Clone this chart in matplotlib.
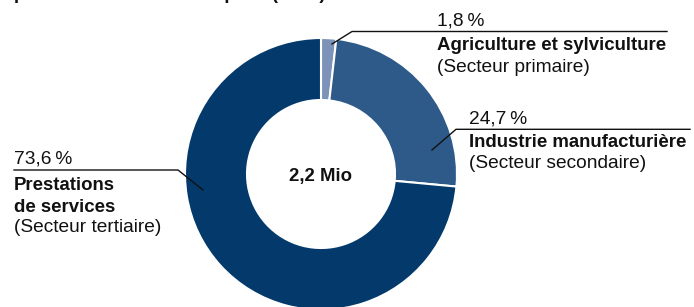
import matplotlib
matplotlib.use("Agg")
import matplotlib.pyplot as plt

# Data
sectors = ["Agriculture et sylviculture", "Industrie manufacturière", "Prestations\nde services"]
subtitles = ["(Secteur primaire)", "(Secteur secondaire)", "(Secteur tertiaire)"]
shares = [1.8, 24.7, 73.6]
colors = ["#7d92b8", "#2e5a8a", "#03396b"]
total_label = "2,2 Mio"
title_fragment = "personnes actives occupées (2019)"

plt.rcParams["font.family"] = ["Liberation Sans", "DejaVu Sans"]

W, H = 694, 307
fig = plt.figure(figsize=(W / 100, H / 100), dpi=100)
ax = fig.add_axes([0, 0, 1, 1])

cx, cy, R, r = 321, 174, 136, 74
ax.pie(shares, colors=colors, startangle=-90, counterclock=True,
       center=(cx, cy), radius=R,
       wedgeprops=dict(width=R - r, edgecolor="white", linewidth=1.5))
ax.set_xlim(0, W)
ax.set_ylim(H, 0)
ax.set_aspect("auto")
ax.axis("off")

fs_r = 13.8
fs_b = 13.4
ax.text(cx, cy + 2, total_label, ha="center", va="center", fontsize=fs_b,
        fontweight="bold", color="#111111")

def pct(v):
    return f"{v:.1f}".replace(".", ",") + "\u2009%"

lc = "#111111"
# Agriculture
ax.plot([332, 352, 667], [44, 31.5, 31.5], color=lc, lw=1.0)
ax.text(437, 25, pct(shares[0]), fontsize=fs_r, va="baseline", color=lc)
ax.text(437, 50, sectors[0], fontsize=fs_b, fontweight="bold", va="baseline", color=lc)
ax.text(437, 72, subtitles[0], fontsize=fs_r, va="baseline", color=lc)

# Industrie
ax.plot([432, 456, 690], [150, 129.3, 129.3], color=lc, lw=1.0)
ax.text(469, 123, pct(shares[1]), fontsize=fs_r, va="baseline", color=lc)
ax.text(469, 147, sectors[1], fontsize=fs_b, fontweight="bold", va="baseline", color=lc)
ax.text(469, 168, subtitles[1], fontsize=fs_r, va="baseline", color=lc)

# Services
ax.plot([203, 178, 14], [190, 170, 170], color=lc, lw=1.0)
ax.text(14, 164, pct(shares[2]), fontsize=fs_r, va="baseline", color=lc)
ax.text(14, 190, sectors[2].split("\n")[0], fontsize=fs_b, fontweight="bold", va="baseline", color=lc)
ax.text(14, 211.5, sectors[2].split("\n")[1], fontsize=fs_b, fontweight="bold", va="baseline", color=lc)
ax.text(14, 232, subtitles[2], fontsize=fs_r, va="baseline", color=lc)

# clipped title line at the very top (only descenders are visible in the reference)
ax.text(14, -1, title_fragment, fontsize=fs_b, fontweight="bold", va="baseline", color=lc)

fig.savefig("out.png", dpi=100)
